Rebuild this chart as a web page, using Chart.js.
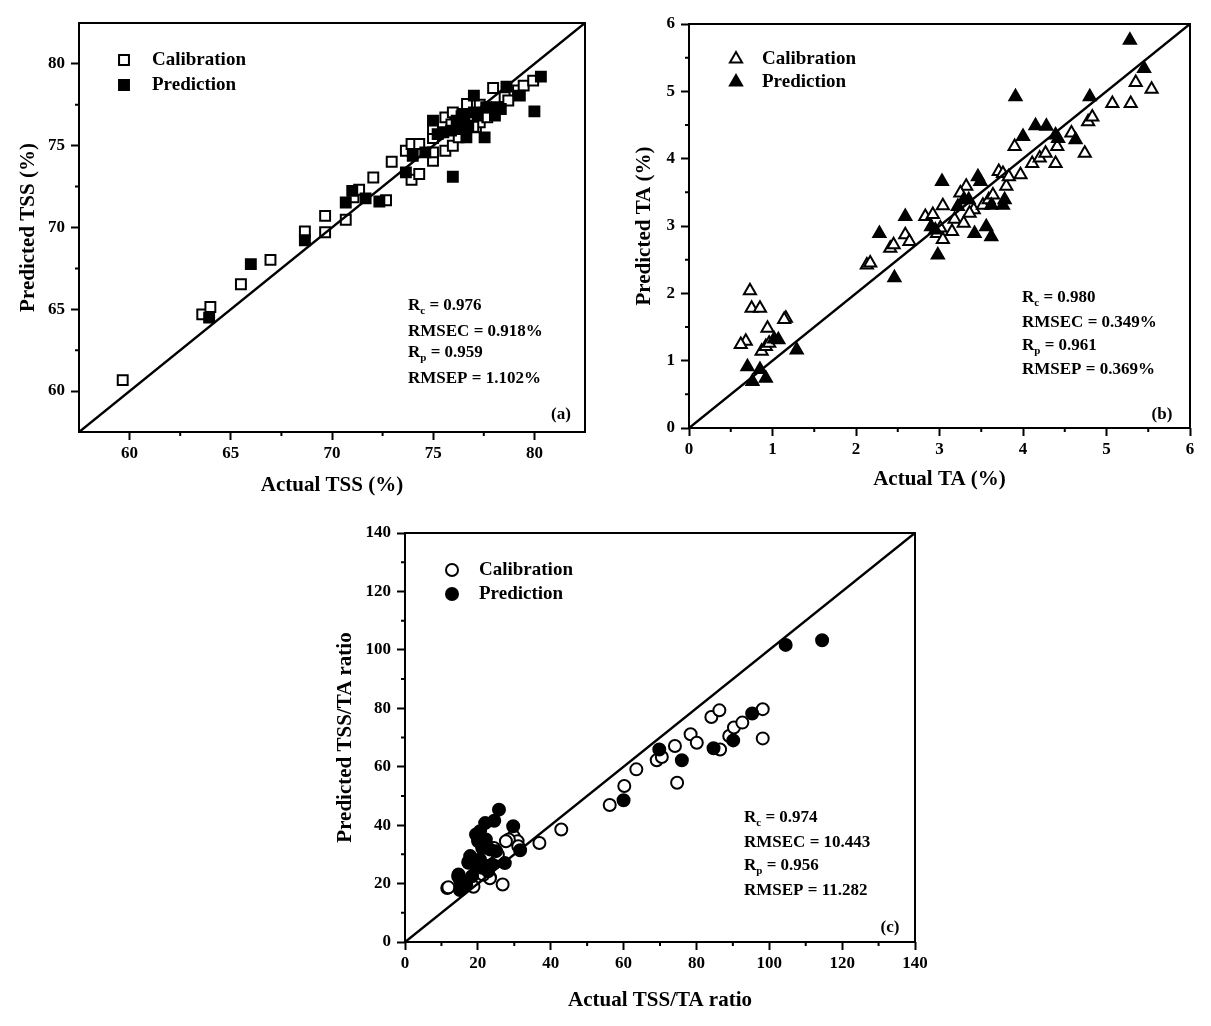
<!DOCTYPE html>
<html>
<head>
<meta charset="utf-8">
<script src="https://cdn.jsdelivr.net/npm/chart.js@4.4.1/dist/chart.umd.min.js"></script>
<style>
  body { margin: 0; background: #fff; width: 1211px; height: 1026px; position: relative; overflow: hidden; }
  .panel { position: absolute; }
</style>
</head>
<body>
<div class="panel" style="left:0;top:0;width:600px;height:500px"><canvas id="grafikA"></canvas></div>
<div class="panel" style="left:600px;top:0;width:611px;height:500px"><canvas id="grafikB"></canvas></div>
<div class="panel" style="left:300px;top:500px;width:700px;height:526px"><canvas id="grafikC"></canvas></div>
<script>
const FONT = "'Liberation Serif', 'Times New Roman', serif";

// (a) TSS
const tssTicks = [60, 65, 70, 75, 80];
const tssCalActual = [59.66, 63.59, 63.99, 65.50, 66.96, 68.66, 69.66, 69.66, 70.68, 71.06, 71.34, 72.04, 72.67, 72.95, 73.65, 73.93, 73.93, 74.31, 74.31, 74.99, 74.99, 74.99, 74.99, 75.60, 75.60, 75.97, 75.97, 76.26, 76.64, 76.67, 77.11, 77.30, 77.49, 77.67, 77.96, 78.53, 78.71, 79.19, 79.47, 79.94, 76.98, 76.40, 75.90, 77.30];
const tssCalPred   = [60.67, 64.69, 65.14, 66.53, 68.02, 69.76, 70.71, 69.71, 70.47, 71.84, 72.31, 73.06, 71.67, 74.02, 74.69, 75.10, 72.92, 73.27, 75.10, 74.08, 74.59, 75.47, 76.02, 74.69, 76.73, 75.00, 77.04, 75.51, 76.12, 77.55, 76.12, 76.43, 77.14, 76.73, 78.53, 77.96, 77.76, 78.37, 78.67, 78.98, 76.16, 76.80, 76.30, 77.50];
const tssPredActual = [63.93, 65.99, 68.66, 70.68, 71.00, 71.66, 72.34, 73.65, 73.99, 74.61, 74.99, 75.22, 75.50, 75.97, 76.16, 76.26, 76.54, 76.64, 77.01, 77.01, 77.54, 77.62, 78.05, 78.15, 78.34, 78.62, 79.28, 80.00, 80.32, 75.88, 76.45, 76.73, 77.20];
const tssPredPred   = [64.49, 67.76, 69.22, 71.53, 72.24, 71.78, 71.59, 73.37, 74.39, 74.59, 76.53, 75.71, 75.82, 73.10, 76.53, 76.02, 76.53, 75.51, 78.06, 77.04, 75.51, 77.35, 76.84, 77.35, 77.24, 78.61, 78.06, 77.10, 79.22, 75.92, 76.94, 76.22, 76.84];
const tssStats = ['R_c = 0.976', 'RMSEC = 0.918%', 'R_p = 0.959', 'RMSEP = 1.102%'];

// (b) TA
const taTicks = [0, 1, 2, 3, 4, 5, 6];
const taCalActual = [0.73, 0.75, 0.85, 0.94, 0.68, 0.62, 0.87, 0.92, 0.96, 1.16, 1.14, 2.13, 2.17, 2.41, 2.45, 2.59, 2.64, 2.83, 2.92, 2.97, 3.04, 3.04, 3.01, 3.15, 3.18, 3.29, 3.32, 3.25, 3.41, 3.52, 3.59, 3.64, 3.71, 3.76, 3.80, 3.83, 3.90, 3.97, 4.11, 4.20, 4.27, 4.39, 4.41, 4.58, 4.74, 4.78, 4.83, 5.07, 5.29, 5.35, 5.54, 3.36];
const taCalPred   = [2.04, 1.78, 1.78, 1.48, 1.29, 1.24, 1.14, 1.21, 1.26, 1.63, 1.61, 2.42, 2.45, 2.67, 2.72, 2.87, 2.77, 3.14, 3.17, 2.89, 2.80, 3.30, 2.97, 2.92, 3.10, 3.04, 3.59, 3.49, 3.24, 3.31, 3.39, 3.46, 3.81, 3.78, 3.59, 3.73, 4.18, 3.76, 3.93, 4.01, 4.08, 3.93, 4.18, 4.38, 4.08, 4.55, 4.62, 4.82, 4.82, 5.13, 5.03, 3.19];
const taPredActual = [5.28, 5.45, 3.91, 4.80, 4.15, 4.28, 4.00, 4.39, 4.63, 4.42, 3.03, 3.46, 3.49, 3.29, 3.35, 3.22, 3.78, 3.62, 3.76, 2.59, 2.28, 2.90, 2.95, 3.42, 3.56, 3.62, 2.98, 2.46, 1.02, 1.07, 1.29, 0.70, 0.76, 0.85, 0.92];
const taPredPred   = [5.76, 5.34, 4.92, 4.92, 4.49, 4.48, 4.33, 4.35, 4.28, 4.30, 3.66, 3.73, 3.66, 3.39, 3.39, 3.29, 3.39, 3.31, 3.31, 3.14, 2.89, 2.99, 2.94, 2.89, 2.99, 2.84, 2.57, 2.23, 1.32, 1.31, 1.16, 0.91, 0.69, 0.87, 0.74];
const taStats = ['R_c = 0.980', 'RMSEC = 0.349%', 'R_p = 0.961', 'RMSEP = 0.369%'];

// (c) TSS/TA
const oranTicks = [0, 20, 40, 60, 80, 100, 120, 140];
const oranCalActual = [11.6, 11.9, 26.8, 23.3, 36.9, 42.9, 56.2, 60.2, 63.5, 69.1, 70.5, 74.1, 74.7, 78.4, 80.1, 84.1, 86.3, 86.5, 89.0, 90.3, 92.6, 98.2, 98.2, 29.8, 30.9, 28.5, 27.7, 24.6, 20.1, 17.9, 19.5, 16.3, 25.5, 24.4, 31.1, 23.3, 18.8, 21.5, 22.5];
const oranCalPred   = [18.5, 18.7, 19.7, 22.2, 33.9, 38.5, 46.9, 53.4, 59.1, 62.2, 63.3, 67.1, 54.5, 71.1, 68.2, 77.0, 79.3, 65.9, 70.5, 73.4, 75.1, 79.7, 69.7, 36.2, 34.5, 35.1, 34.5, 27.1, 24.2, 20.8, 22.0, 20.2, 29.9, 32.2, 32.8, 21.8, 18.9, 23.0, 26.0];
const oranPredActual = [114.5, 104.5, 95.3, 90.1, 84.7, 76.0, 69.8, 60.0, 25.8, 22.0, 24.5, 29.7, 31.6, 27.4, 20.1, 17.4, 14.6, 15.1, 19.5, 20.6, 20.1, 21.2, 22.2, 23.3, 25.0, 17.9, 17.4, 19.0, 21.2, 22.8, 14.7, 15.2, 15.7, 16.8, 18.4, 23.9, 20.6];
const oranPredPred   = [103.3, 101.7, 78.2, 69.0, 66.3, 62.2, 65.9, 48.5, 45.3, 40.7, 41.5, 39.6, 31.4, 27.0, 34.9, 27.5, 22.4, 17.8, 36.8, 37.9, 34.5, 32.2, 35.1, 31.7, 31.1, 29.4, 27.1, 26.5, 25.4, 24.2, 23.1, 20.8, 18.5, 19.7, 22.5, 26.5, 28.2];
const oranStats = ['R_c = 0.974', 'RMSEC = 10.443', 'R_p = 0.956', 'RMSEP = 11.282'];

const seriesNames = ['Calibration', 'Prediction'];

const noktalar = (xs, ys) => xs.map((x, i) => ({ x: x, y: ys[i] }));

// text with one subscript, e.g. R_c
function yaziCiz(ctx, text, x, y, size) {
    const m = text.match(/^(\w)_(\w)(.*)$/);
    ctx.textBaseline = 'middle';
    ctx.textAlign = 'left';
    ctx.fillStyle = '#000';
    ctx.font = `bold ${size}px ${FONT}`;
    if (!m) { ctx.fillText(text, x, y); return; }
    ctx.fillText(m[1], x, y);
    let w = ctx.measureText(m[1]).width;
    ctx.font = `bold ${Math.round(size * 0.62)}px ${FONT}`;
    ctx.fillText(m[2], x + w, y + size * 0.33);
    w += ctx.measureText(m[2]).width;
    ctx.font = `bold ${size}px ${FONT}`;
    ctx.fillText(m[3], x + w, y);
}

const cercevePlugin = {
    id: 'cerceve',
    afterDraw(chart, args, o) {
        const ctx = chart.ctx;
        const a = chart.chartArea;
        ctx.save();
        ctx.strokeStyle = '#000';
        ctx.lineWidth = 2;
        ctx.strokeRect(a.left, a.top, a.right - a.left, a.bottom - a.top);

        // minor ticks (half way between labelled ticks)
        const xs = chart.scales.x, ys = chart.scales.y;
        const t = o.ticks, half = (t[1] - t[0]) / 2;
        const minors = [t[0] - half].concat(t.map(v => v + half));
        minors.forEach(v => {
            if (v <= o.min || v >= o.max) return;
            const px = xs.getPixelForValue(v);
            const py = ys.getPixelForValue(v);
            ctx.beginPath();
            ctx.moveTo(px, a.bottom); ctx.lineTo(px, a.bottom + 4);
            ctx.moveTo(a.left, py); ctx.lineTo(a.left - 4, py);
            ctx.stroke();
        });

        // legend
        const styles = [o.style, o.style];
        const fills = ['#fff', '#000'];
        seriesNames.forEach((n, i) => {
            const ly = o.legend.y[i];
            ctx.fillStyle = fills[i];
            ctx.strokeStyle = '#000';
            ctx.lineWidth = 2;
            Chart.helpers.drawPoint(ctx, { pointStyle: styles[i], radius: o.radius, borderWidth: 2 }, o.legend.x, ly);
            yaziCiz(ctx, n, o.legend.textX, ly, 19);
        });

        // statistics
        o.stats.forEach((s, i) => yaziCiz(ctx, s, o.statX, o.statY[i], 17));

        // panel tag
        ctx.font = `bold 17px ${FONT}`;
        ctx.textAlign = 'center';
        ctx.textBaseline = 'middle';
        ctx.fillStyle = '#000';
        ctx.fillText(o.tag, o.tagPos[0], o.tagPos[1]);
        ctx.restore();
    }
};

function grafikYap(id, c) {
    const eksen = (title, isX) => ({
        type: 'linear',
        min: c.min,
        max: c.max,
        afterBuildTicks: s => { s.ticks = c.ticks.map(v => ({ value: v })); },
        afterFit: s => {
            if (isX) s.height = c.H - c.area.bottom;
            else s.width = c.area.left;
        },
        ticks: {
            color: '#000',
            padding: isX ? 3 : 6,
            maxRotation: 0,
            autoSkip: false,
            font: { family: FONT, size: 17, weight: 'bold' },
            callback: v => String(v)
        },
        grid: { drawOnChartArea: false, drawTicks: true, tickLength: 8, tickWidth: 2, tickColor: '#000' },
        border: { display: false },
        title: {
            display: true,
            text: title,
            color: '#000',
            font: { family: FONT, size: 21, weight: 'bold' },
            padding: isX ? { top: 0, bottom: c.xTitlePad } : { top: c.yTitlePad, bottom: 0 }
        }
    });

    return new Chart(document.getElementById(id), {
        type: 'scatter',
        data: {
            datasets: [
                {
                    type: 'line',
                    data: [{ x: c.min, y: c.min }, { x: c.max, y: c.max }],
                    borderColor: '#000',
                    borderWidth: 2.5,
                    pointRadius: 0,
                    fill: false
                },
                {
                    label: seriesNames[1],
                    data: c.pred,
                    pointStyle: c.style,
                    pointRadius: c.radius,
                    backgroundColor: '#000',
                    borderColor: '#000',
                    borderWidth: 2
                },
                {
                    label: seriesNames[0],
                    data: c.cal,
                    pointStyle: c.style,
                    pointRadius: c.radius,
                    backgroundColor: '#fff',
                    borderColor: '#000',
                    borderWidth: 2
                }
            ]
        },
        options: {
            responsive: true,
            maintainAspectRatio: false,
            animation: false,
            events: [],
            layout: { padding: { left: 0, bottom: 0, top: c.area.top, right: c.W - c.area.right } },
            plugins: {
                legend: { display: false },
                tooltip: { enabled: false },
                cerceve: {
                    min: c.min, max: c.max, ticks: c.ticks,
                    style: c.style, radius: c.radius,
                    legend: c.legend, stats: c.stats, statX: c.statX, statY: c.statY,
                    tag: c.tag, tagPos: c.tagPos
                }
            },
            scales: {
                x: eksen(c.xTitle, true),
                y: eksen(c.yTitle, false)
            }
        },
        plugins: [cercevePlugin]
    });
}

grafikYap('grafikA', {
    W: 600, H: 500,
    area: { left: 79, top: 23, right: 585, bottom: 432 },
    min: 57.5, max: 82.5, ticks: tssTicks,
    cal: noktalar(tssCalActual, tssCalPred),
    pred: noktalar(tssPredActual, tssPredPred),
    style: 'rect', radius: 7,
    xTitle: 'Actual TSS (%)', yTitle: 'Predicted TSS (%)',
    xTitlePad: 2, yTitlePad: 16,
    legend: { x: 124, y: [60, 85], textX: 152 },
    stats: tssStats, statX: 408, statY: [306, 332, 353, 379],
    tag: '(a)', tagPos: [561, 415]
});

grafikYap('grafikB', {
    W: 611, H: 500,
    area: { left: 89, top: 24, right: 590, bottom: 428 },
    min: 0, max: 6, ticks: taTicks,
    cal: noktalar(taCalActual, taCalPred),
    pred: noktalar(taPredActual, taPredPred),
    style: 'triangle', radius: 7,
    xTitle: 'Actual TA (%)', yTitle: 'Predicted TA (%)',
    xTitlePad: 8, yTitlePad: 32,
    legend: { x: 136, y: [59, 82], textX: 162 },
    stats: taStats, statX: 422, statY: [298, 323, 346, 370],
    tag: '(b)', tagPos: [562, 415]
});

grafikYap('grafikC', {
    W: 700, H: 526,
    area: { left: 105, top: 33, right: 615, bottom: 442 },
    min: 0, max: 140, ticks: oranTicks,
    cal: noktalar(oranCalActual, oranCalPred),
    pred: noktalar(oranPredActual, oranPredPred),
    style: 'circle', radius: 6,
    xTitle: 'Actual TSS/TA ratio', yTitle: 'Predicted TSS/TA ratio',
    xTitlePad: 13, yTitlePad: 33,
    legend: { x: 152, y: [70, 94], textX: 179 },
    stats: oranStats, statX: 444, statY: [318, 343, 366, 391],
    tag: '(c)', tagPos: [590, 428]
});
</script>
</body>
</html>
